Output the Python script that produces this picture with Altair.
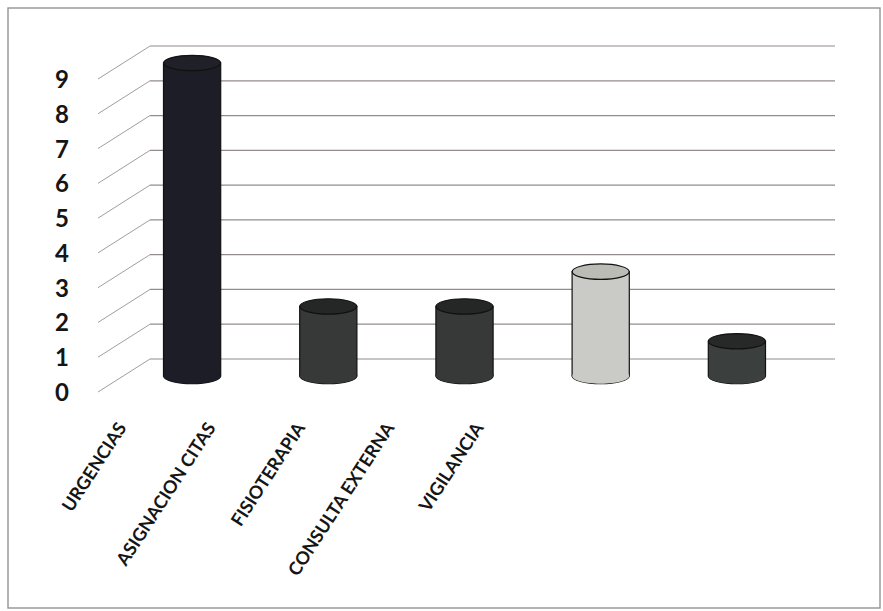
import altair as alt
import pandas as pd

# ---- data ----
categories = ["URGENCIAS", "ASIGNACION CITAS", "FISIOTERAPIA", "CONSULTA EXTERNA", "VIGILANCIA"]
values = [9, 2, 2, 3, 1]
body_colors = ["#1d1d27", "#363937", "#363937", "#cacac6", "#3b3f3d"]
cap_colors = ["#202029", "#252726", "#252726", "#bcbcb7", "#272928"]
y_ticks = list(range(10))

df = pd.DataFrame({"cat": categories, "value": values,
                   "body": body_colors, "cap": cap_colors, "zero": [0] * len(values)})
ticks = pd.DataFrame({"t": y_ticks})

# ---- scales (pixel ranges inside the view) ----
yscale = alt.Scale(domain=[0, 9], range=[351, 38])
xbar = alt.Scale(domain=categories, range=[116, 797], paddingInner=0.58, paddingOuter=0.29)
xlab = alt.Scale(type="point", domain=categories, range=[115, 472], padding=0)

ELLIPSE = ("M-1,0C-1,-0.149,-0.552,-0.27,0,-0.27C0.552,-0.27,1,-0.149,1,0"
           "C1,0.149,0.552,0.27,0,0.27C-0.552,0.27,-1,0.149,-1,0Z")
CAP_SIZE = 57 * 57
DEPTH = 17

# back wall gridlines
grid = alt.Chart(ticks).mark_rule(color="#948c8c", strokeWidth=1.2).encode(
    y=alt.Y("t:Q", scale=yscale, axis=None),
    x=alt.value(142), x2=alt.value(827),
)

# side wall diagonals
diag = alt.Chart(ticks).mark_rule(color="#a09e9e", strokeWidth=1.0, yOffset=33).encode(
    y=alt.Y("t:Q", scale=yscale, axis=None),
    y2=alt.Y2("t:Q"),
    x=alt.value(90), x2=alt.value(142),
)

# y tick labels (front)
ylabels = alt.Chart(ticks).mark_text(
    font="Lato", fontSize=24, fontWeight="bold", color="#151515",
    align="center", baseline="middle", yOffset=35,
).encode(
    y=alt.Y("t:Q", scale=yscale, axis=None),
    x=alt.value(54),
    text=alt.Text("t:Q"),
)

xenc = alt.X("cat:N", scale=xbar, axis=None, sort=categories)

bottom_outline = alt.Chart(df).mark_point(
    shape=ELLIPSE, size=CAP_SIZE, filled=True, opacity=1, yOffset=DEPTH,
    stroke="#111111", strokeWidth=1.2,
).encode(x=xenc, y=alt.Y("zero:Q", scale=yscale, axis=None),
         fill=alt.Fill("body:N", scale=None))

bars = alt.Chart(df).mark_bar(
    yOffset=DEPTH, y2Offset=DEPTH, stroke="#111111", strokeWidth=1.2,
).encode(x=xenc, y=alt.Y("value:Q", scale=yscale, axis=None), y2=alt.Y2("zero:Q"),
         fill=alt.Fill("body:N", scale=None))

bottom_fill = alt.Chart(df).mark_point(
    shape=ELLIPSE, size=CAP_SIZE, filled=True, opacity=1, yOffset=DEPTH, strokeWidth=0,
).encode(x=xenc, y=alt.Y("zero:Q", scale=yscale, axis=None),
         fill=alt.Fill("body:N", scale=None))

top_cap = alt.Chart(df).mark_point(
    shape=ELLIPSE, size=CAP_SIZE, filled=True, opacity=1, yOffset=DEPTH,
    stroke="#111111", strokeWidth=1.2,
).encode(x=xenc, y=alt.Y("value:Q", scale=yscale, axis=None),
         fill=alt.Fill("cap:N", scale=None))

# category labels (front, rotated)
xlabels = alt.Chart(df).mark_text(
    angle=303, align="right", baseline="middle",
    font="Lato", fontSize=18, fontWeight="bold", color="#151515",
).encode(
    x=alt.X("cat:N", scale=xlab, axis=None, sort=categories),
    y=alt.value(417),
    text=alt.Text("cat:N"),
)

chart = alt.layer(
    grid, diag, ylabels, bottom_outline, bars, bottom_fill, top_cap, xlabels
).resolve_scale(x="independent").properties(
    width=872, height=600, autosize="none",
    padding={"left": 8, "top": 8, "right": 3, "bottom": 3},
    background="white",
).configure_view(stroke="#9a9a9a", strokeWidth=1.5)

chart.save("out.html", embed_options={"renderer": "svg", "actions": False})
